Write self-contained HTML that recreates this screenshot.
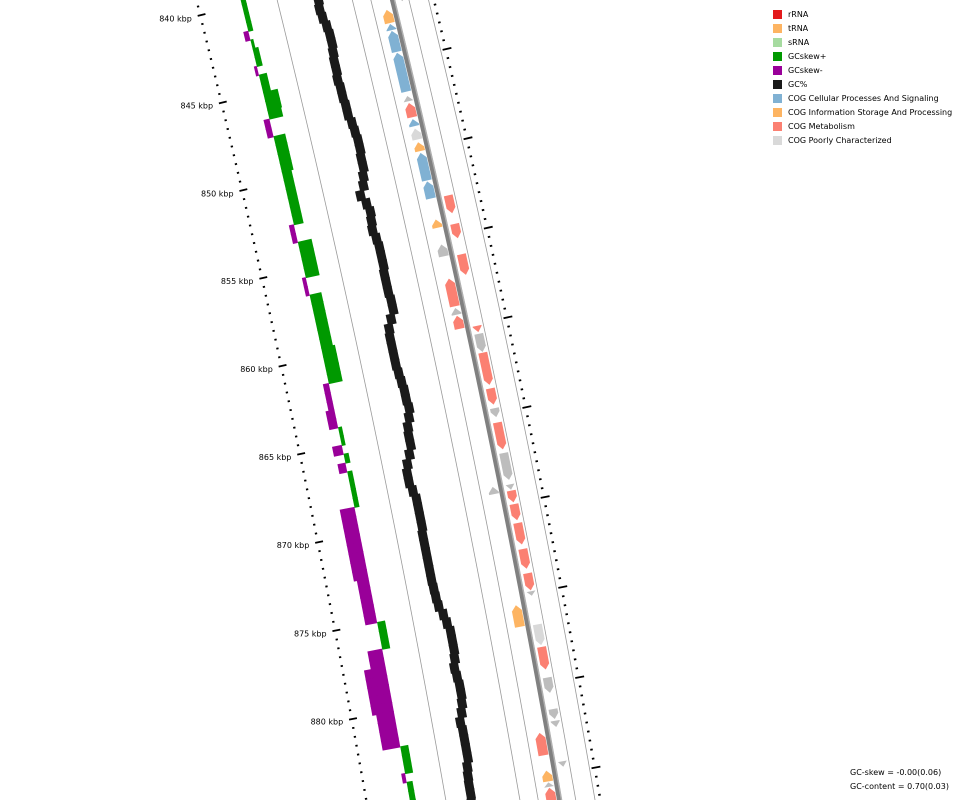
<!DOCTYPE html>
<html><head><meta charset="utf-8"><style>
html,body{margin:0;padding:0;background:#fff;width:960px;height:800px;overflow:hidden;}
svg{display:block;font-family:"DejaVu Sans","Liberation Sans",sans-serif;overflow:hidden;}
</style></head><body>
<svg id="map" width="960" height="800" viewBox="0 0 960 800" xmlns="http://www.w3.org/2000/svg">
<g id="rings"></g>
<g id="skew"></g>
<g id="gc"></g>
<g id="feat"></g>
<g id="ticks"></g>
<g font-size="8" fill="#000">
 <g><rect x="773" y="10" width="9" height="9" fill="#e31a1c"/><text x="788" y="17">rRNA</text></g>
 <g><rect x="773" y="24" width="9" height="9" fill="#fdb462"/><text x="788" y="31">tRNA</text></g>
 <g><rect x="773" y="38" width="9" height="9" fill="#a6dba0"/><text x="788" y="45">sRNA</text></g>
 <g><rect x="773" y="52" width="9" height="9" fill="#009900"/><text x="788" y="59">GCskew+</text></g>
 <g><rect x="773" y="66" width="9" height="9" fill="#990099"/><text x="788" y="73">GCskew-</text></g>
 <g><rect x="773" y="80" width="9" height="9" fill="#1a1a1a"/><text x="788" y="87">GC%</text></g>
 <g><rect x="773" y="94" width="9" height="9" fill="#80b1d3"/><text x="788" y="101">COG Cellular Processes And Signaling</text></g>
 <g><rect x="773" y="108" width="9" height="9" fill="#fdb462"/><text x="788" y="115">COG Information Storage And Processing</text></g>
 <g><rect x="773" y="122" width="9" height="9" fill="#fb8072"/><text x="788" y="129">COG Metabolism</text></g>
 <g><rect x="773" y="136" width="9" height="9" fill="#d9d9d9"/><text x="788" y="143">COG Poorly Characterized</text></g>
</g>
<text x="850" y="775" font-size="8">GC-skew = -0.00(0.06)</text>
<text x="850" y="789" font-size="8">GC-content = 0.70(0.03)</text>
</svg>
<script>
// ---- data ----
const skewStart = 839.5;
const skewStep = 0.5;
const skewValues = [0.017,0.017,0.017,0.017,-0.017,0.010,0.020,0.020,-0.010,0.027,0.027,0.050,0.050,0.047,-0.020,-0.020,0.040,0.040,0.040,0.040,0.033,0.033,0.033,0.033,0.033,0.033,-0.017,-0.017,0.047,0.047,0.047,0.047,-0.013,-0.013,0.040,0.040,0.040,0.040,0.040,0.040,0.047,0.047,0.047,0.047,-0.020,-0.020,-0.020,-0.030,-0.030,0.013,0.013,-0.033,0.017,-0.027,0.017,0.017,0.017,0.017,-0.050,-0.050,-0.050,-0.050,-0.050,-0.050,-0.050,-0.050,-0.040,-0.040,-0.040,-0.040,-0.040,0.027,0.027,0.027,-0.050,-0.050,-0.073,-0.073,-0.073,-0.073,-0.073,-0.060,-0.060,-0.060,-0.060,0.027,0.027,0.027,-0.013,0.020,0.020,0.020,0.020];
const gcStart = 840.5;
const gcStep = 0.5;
const gcValues = [71.75,71.5,71.75,72.25,72.5,72.5,72.25,72,72,71.75,72,72,72.25,72.25,72.75,73,73.25,73.25,73,73,72.5,72,70.75,71.75,72.25,72,71.75,72.25,72.5,72.5,72.5,72.25,72.25,72.25,72.5,72.5,71.5,70.5,70.25,70.25,70.25,70.25,70.5,70.75,71,71,71.25,70.75,70,69.75,69.75,69,68,67.5,67.5,68,68.5,68.5,68.5,68.5,68.25,68.25,68.25,68.25,68.25,68.25,68.375,68.5,68.75,69.5,70,70.5,70.5,70.5,70.25,69.75,70,70.25,70.25,70,69.5,68.75,69,69,69,69,68.5,68.25,68.125,68.125,68,68];
const featStart = [842.16,842.95,843.34,844.57,847.0,847.4,848.3,848.84,849.6,850.2,851.8,853.94,855.34,857.25,858.9,859.33,868.9,875.5,882.6,884.7,885.35,885.65,
  841.0,852.8,854.4,856.1,860.1,860.55,861.6,863.6,864.7,865.5,867.2,868.95,869.3,870.05,871.1,872.55,873.9,874.9,876.75,878.0,879.7,881.45,882.1,884.35];
const featEnd = [842.9,843.3,844.52,846.76,847.3,848.2,848.7,849.45,850.1,851.75,852.76,854.4,856.0,858.8,859.27,860.06,869.3,876.7,883.85,885.3,885.6,887.0,
  841.9,853.8,855.2,857.25,860.45,861.56,863.4,864.5,865.2,867.0,868.7,869.25,869.95,870.95,872.3,873.65,874.85,875.15,877.9,879.25,880.55,882.0,882.45,884.65];
const featStrand = [-1,-1,-1,-1,-1,-1,-1,-1,-1,-1,-1,-1,-1,-1,-1,-1,-1,-1,-1,-1,-1,-1,
  1,1,1,1,1,1,1,1,1,1,1,1,1,1,1,1,1,1,1,1,1,1,1,1];
const featCat = ['I','C','C','C','U','M','C','P','I','C','C','I','U','M','U','M','U','I','M','I','U','M',
  'U','M','M','M','M','U','M','M','U','M','U','U','M','M','M','M','M','U','P','M','U','U','U','U'];
const majorTickLabels = [840,845,850,855,860,865,870,875,880,885];

// ---- geometry ----
const CX=-11451, CY=2890, R0=12000, TH860=-0.2119, A=0.0015;
const catColor={C:'#80b1d3',I:'#fdb462',M:'#fb8072',P:'#d9d9d9',U:'#bdbdbd'};
function pt(k,r){const th=TH860+(k-860)*A;const R=R0+r;return [CX+R*Math.cos(th),CY+R*Math.sin(th)];}
function P(a){return a[0].toFixed(2)+','+a[1].toFixed(2);}
const NS='http://www.w3.org/2000/svg';
function mk(tag,parent){const e=document.createElementNS(NS,tag);parent.appendChild(e);return e;}

const ringsG=document.getElementById('rings');
function arc(r,stroke,w,name){
  const pts=[];for(let k=837;k<=890;k+=0.5)pts.push(P(pt(k,r)));
  const pl=mk('polyline',ringsG);
  
  
  pl.setAttribute('points',pts.join(' '));pl.setAttribute('fill','none');
  pl.setAttribute('stroke',stroke);pl.setAttribute('stroke-width',w);
}
arc(79,'#9a9a9a',0.8,'ring-line');
arc(152,'#9a9a9a',0.8,'ring-line');
arc(170,'#9a9a9a',0.8,'ring-line');
arc(207,'#9a9a9a',0.8,'ring-line');
arc(226,'#9a9a9a',0.8,'ring-line');
arc(191,'#808080',5,'backbone');
arc(193,'#b0b0b0',1.5,'backbone-highlight');

// skew
const SKEW_BASE=43.5, SKEW_SCALE=300;
const skewG=document.getElementById('skew');
skewValues.forEach((v,i)=>{
  const k0=skewStart+i*skewStep-0.03,k1=k0+skewStep+0.06;
  const r1=SKEW_BASE, r2=SKEW_BASE+v*SKEW_SCALE;
  const p=mk('polygon',skewG);
  
  
  p.setAttribute('points',[pt(k0,r1),pt(k0,r2),pt(k1,r2),pt(k1,r1)].map(P).join(' '));
  p.setAttribute('fill',v>=0?'#009900':'#990099');
});

// gc content
const GC_BASE=112, GC_AVG=70, GC_SCALE=4, GC_HALF=4.5;
const gcG=document.getElementById('gc');
gcValues.forEach((v,i)=>{
  const k0=gcStart+i*gcStep-0.04,k1=k0+gcStep+0.08;
  const c=GC_BASE+(v-GC_AVG)*GC_SCALE;
  const p=mk('polygon',gcG);
  
  
  p.setAttribute('points',[pt(k0,c-GC_HALF),pt(k0,c+GC_HALF),pt(k1,c+GC_HALF),pt(k1,c-GC_HALF)].map(P).join(' '));
  p.setAttribute('fill','#1a1a1a');
});

// features
const featG=document.getElementById('feat');
const H=0.3;
featStart.forEach((s,i)=>{
  const e=featEnd[i],st=featStrand[i];
  const ri=st<0?178:196, ro=st<0?188:205, rm=(ri+ro)/2;
  let pts;
  if(st<0){
    if(e-s<=H) pts=[pt(s,rm),pt(e,ri),pt(e,ro)];
    else pts=[pt(s,rm),pt(s+H,ri),pt(e,ri),pt(e,ro),pt(s+H,ro)];
  } else {
    if(e-s<=H) pts=[pt(e,rm),pt(s,ri),pt(s,ro)];
    else pts=[pt(e,rm),pt(e-H,ri),pt(s,ri),pt(s,ro),pt(e-H,ro)];
  }
  const p=mk('polygon',featG);
  
  
  p.setAttribute('points',pts.map(P).join(' '));
  p.setAttribute('fill',catColor[featCat[i]]);
});

// ticks
const tickG=document.getElementById('ticks');
function tick(k,r1,r2,w,name){
  const a=pt(k,r1),b=pt(k,r2);
  const l=mk('line',tickG);
  
  
  l.setAttribute('x1',a[0]);l.setAttribute('y1',a[1]);l.setAttribute('x2',b[0]);l.setAttribute('y2',b[1]);
  l.setAttribute('stroke','#000');l.setAttribute('stroke-width',w);
}
for(let k=837;k<=890;k+=0.5){
  const major=Math.abs(k/5-Math.round(k/5))<1e-6;
  if(major){tick(k,-2,6,1.8,'inner-major-tick');tick(k,228,237,1.8,'outer-major-tick');}
  else {tick(k,-0.5,1.8,1.8,'inner-minor-tick');tick(k,230,232.5,1.8,'outer-minor-tick');}
}
majorTickLabels.forEach(k=>{
  const a=pt(k,-8);
  const t=mk('text',tickG);
  
  
  t.setAttribute('x',a[0].toFixed(1));t.setAttribute('y',(a[1]+4).toFixed(1));
  t.setAttribute('text-anchor','end');t.setAttribute('font-size','8');
  t.textContent=k+' kbp';
});
</script>
</body></html>
